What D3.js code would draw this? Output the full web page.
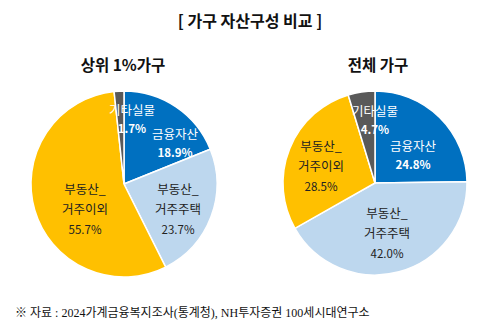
<!DOCTYPE html>
<html><head><meta charset="utf-8">
<script src="https://cdn.jsdelivr.net/npm/d3@7"></script>
<style>
html,body{margin:0;padding:0;background:#fff;}
svg{display:block;}
</style></head>
<body>
<svg id="chart" width="495" height="333"></svg>
<script>
const mainTitle = "[ 가구 자산구성 비교 ]";
const pieTitles = ["상위 1%가구", "전체 가구"];
const categories = ["금융자산", "부동산_거주주택", "부동산_거주이외", "기타실물"];
const labelLines = [["금융자산"], ["부동산_", "거주주택"], ["부동산_", "거주이외"], ["기타실물"]];
const top1Values = [18.9, 23.7, 55.7, 1.7];
const allValues = [24.8, 42.0, 28.5, 4.7];
const colors = ["#0070C0", "#BDD7EE", "#FFC000", "#595959"];
const textColors = ["#fff", "#222", "#222", "#fff"];
const source = "※ 자료 : 2024가계금융복지조사(통계청), NH투자증권 100세시대연구소";

const svg = d3.select("#chart");
const font = "'Noto Sans CJK KR', 'Noto Sans', sans-serif";

svg.append("text").attr("x", 250).attr("y", 27).attr("text-anchor", "middle")
  .attr("font-family", font).attr("font-size", 16).attr("font-weight", "bold").attr("fill", "#111")
  .text(mainTitle);

const color = d3.scaleOrdinal().domain(categories).range(colors);
const tcolor = d3.scaleOrdinal().domain(categories).range(textColors);

// label block offsets from pie centre (layout only)
const pies = [
  {values: top1Values, cx: 124, cy: 184, r: 93, title: pieTitles[0], tx: 123,
   labelOff: [[51, -41], [54, 25], [-39, 25], [8, -65]]},
  {values: allValues, cx: 375, cy: 183, r: 92, title: pieTitles[1], tx: 378,
   labelOff: [[38, -28], [12, 50], [-54, -17], [0, -63]]}
];

const pieGen = d3.pie().sort(null).value(d => d.v);

pies.forEach((p, pi) => {
  const g = svg.append("g").attr("transform", `translate(${p.cx},${p.cy})`);
  svg.append("text").attr("x", p.tx).attr("y", 71).attr("text-anchor", "middle")
    .attr("font-family", font).attr("font-size", 15.5).attr("font-weight", "bold").attr("fill", "#111")
    .text(p.title);
  const data = categories.map((c, i) => ({c, v: p.values[i], i}));
  const arcs = pieGen(data);
  const arc = d3.arc().innerRadius(0).outerRadius(p.r);
  g.selectAll("path").data(arcs).join("path")
    .attr("d", arc).attr("fill", d => color(d.data.c))
    .attr("stroke", "#fff").attr("stroke-width", 1.5);

  arcs.forEach(a => {
    const i = a.data.i;
    const [x, y] = p.labelOff[i];
    const lines = labelLines[i].concat([d3.format(".1f")(a.data.v) + "%"]);
    const lh = lines.length === 3 ? 20 : 18;
    const white = tcolor(a.data.c) === "#fff";
    const t = g.append("text").attr("text-anchor", "middle")
      .attr("font-family", font).attr("fill", tcolor(a.data.c));
    lines.forEach((ln, k) => {
      const isPct = k === lines.length - 1;
      t.append("tspan").attr("x", x)
        .attr("y", y + (k - (lines.length - 1) / 2) * lh + 4.5)
        .attr("font-size", isPct ? 11.5 : 12.5)
        .attr("font-weight", (isPct && white) ? "bold" : "normal")
        .text(ln);
    });
  });
});

svg.append("text").attr("x", 15).attr("y", 317)
  .attr("font-family", "'Liberation Serif', 'Noto Sans CJK KR', serif").attr("font-size", 12).attr("fill", "#111")
  .text(source);
</script>
</body></html>
